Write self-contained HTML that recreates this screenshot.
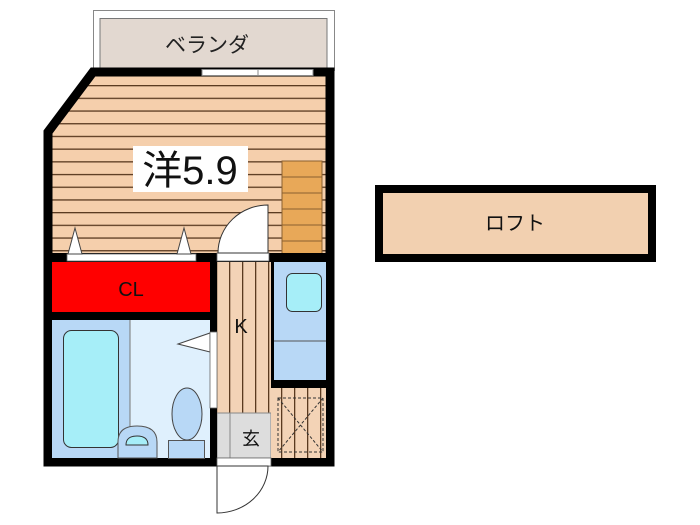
<!DOCTYPE html>
<html><head><meta charset="utf-8"><style>html,body{margin:0;padding:0;background:#fff}svg{display:block}</style></head>
<body>
<svg width="700" height="525" viewBox="0 0 700 525" xmlns="http://www.w3.org/2000/svg" font-family="Liberation Sans, Noto Sans CJK JP, sans-serif">
<defs>
<pattern id="hs" x="0" y="85" width="10" height="12.7" patternUnits="userSpaceOnUse">
<rect width="10" height="12.7" fill="#f5cfac"/><rect y="0" width="10" height="1.3" fill="#5a3a20"/></pattern>
<pattern id="vs" x="229" y="0" width="13" height="10" patternUnits="userSpaceOnUse">
<rect width="13" height="10" fill="#f3d3b6"/><rect x="0" width="1.3" height="10" fill="#5a3a20"/></pattern>
</defs>
<!-- balcony -->
<rect x="93.5" y="10.5" width="241" height="60" fill="#fff" stroke="#888" stroke-width="1"/>
<rect x="100" y="18.5" width="227" height="50" fill="#e2d8d0" stroke="#777" stroke-width="1"/>
<text x="207" y="52" font-size="21" text-anchor="middle" fill="#222">ベランダ</text>
<!-- room floor -->
<polygon points="93,70 334,70 334,258 44,258 44,130" fill="url(#hs)"/>
<!-- walls main room outline -->
<polygon points="93,72 330,72 330,462 48,462 48,132" fill="none" stroke="#000" stroke-width="9"/>
<!-- window -->
<rect x="202" y="69.5" width="111" height="6" fill="#fff" stroke="#888" stroke-width="1"/>
<line x1="258" y1="70" x2="258" y2="76" stroke="#888"/>
<!-- text 洋5.9 -->
<rect x="133" y="146" width="115" height="46" fill="#fff"/>
<text x="190" y="184" font-size="40" text-anchor="middle" fill="#111">洋5.9</text>
<!-- stairs -->
<rect x="282" y="161" width="40" height="93" fill="#e8a858" stroke="#8a6030" stroke-width="1"/>
<g stroke="#8a6030" stroke-width="1"><line x1="282" y1="177" x2="322" y2="177"/><line x1="282" y1="193" x2="322" y2="193"/><line x1="282" y1="209" x2="322" y2="209"/><line x1="282" y1="225" x2="322" y2="225"/><line x1="282" y1="241" x2="322" y2="241"/></g>
<!-- lower areas -->
<rect x="52" y="262" width="158" height="50" fill="#f00"/>
<text x="131" y="296" font-size="20" text-anchor="middle" fill="#111">CL</text>
<rect x="52" y="320" width="78" height="138" fill="#b8d8f6"/>
<rect x="130" y="320" width="80" height="138" fill="#dff0fd"/>
<line x1="130" y1="320" x2="130" y2="458" stroke="#777"/>
<rect x="63.5" y="330.5" width="55" height="117" rx="8" fill="#a6eef8" stroke="#333"/>
<path d="M118,458 V442 Q118,426 137,426 Q157,426 157,442 V458 Z" fill="#b8d8f6" stroke="#555"/>
<path d="M126,445 Q126,436 137,436 Q148,436 148,445 Z" fill="#a6eef8" stroke="#333"/>
<ellipse cx="187" cy="414" rx="15" ry="26" fill="#b8d8f6" stroke="#444"/>
<rect x="168.5" y="440.5" width="36" height="18" fill="#b8d8f6" stroke="#555"/>
<polygon points="178,344 210,333 210,352" fill="#fff" stroke="#444"/>
<!-- kitchen -->
<rect x="217" y="262" width="54" height="151" fill="url(#vs)"/>
<text x="241" y="333" font-size="20" text-anchor="middle" fill="#111">K</text>
<rect x="217" y="413" width="54" height="45" fill="#ddd" stroke="#888"/>
<line x1="230" y1="413" x2="230" y2="458" stroke="#888"/>
<text x="251" y="445" font-size="18" text-anchor="middle" fill="#111">玄</text>
<!-- right appliances -->
<rect x="273" y="262" width="53" height="118" fill="#b8d8f6"/>
<line x1="273" y1="341" x2="326" y2="341" stroke="#555"/>
<rect x="286.5" y="273.5" width="35" height="38" rx="6" fill="#a6eef8" stroke="#333"/>
<rect x="271" y="388" width="55" height="70" fill="url(#vs)"/>
<rect x="278" y="398" width="45" height="54" fill="none" stroke="#333" stroke-dasharray="3,2"/>
<g stroke="#333" stroke-dasharray="3,2"><line x1="278" y1="398" x2="323" y2="452"/><line x1="323" y1="398" x2="278" y2="452"/></g>
<!-- interior walls -->
<rect x="44" y="253" width="290" height="9" fill="#000"/>
<rect x="44" y="312" width="170" height="8" fill="#000"/>
<rect x="210" y="258" width="7" height="204" fill="#000"/>
<rect x="210" y="332" width="7" height="76" fill="#fff" stroke="#666" stroke-width="0.8"/>
<rect x="271" y="258" width="3" height="130" fill="#000"/>
<rect x="271" y="380" width="63" height="8" fill="#000"/>
<!-- closet top bar & triangles -->
<rect x="67" y="254" width="129" height="7" fill="#fff" stroke="#666" stroke-width="0.8"/>
<polygon points="68,254 82,254 75,228" fill="#fff" stroke="#444"/>
<polygon points="177,254 191,254 184,228" fill="#fff" stroke="#444"/>
<!-- room door -->
<rect x="217" y="253" width="52" height="8" fill="#fff" stroke="#666" stroke-width="0.8"/>
<path d="M268,253 V205 A50,48 0 0 0 218,253 Z" fill="#fff" stroke="#333"/>
<!-- entrance door -->
<rect x="217" y="458" width="54" height="8" fill="#fff" stroke="#666" stroke-width="0.8"/>
<path d="M217,466 V513 A51,47 0 0 0 268,466 Z" fill="#fff" stroke="#333"/>
<!-- loft -->
<rect x="379" y="189" width="273" height="69" fill="#f2d0b0" stroke="#000" stroke-width="8"/>
<text x="515" y="230" font-size="20" text-anchor="middle" fill="#111">ロフト</text>
</svg>
</body></html>
